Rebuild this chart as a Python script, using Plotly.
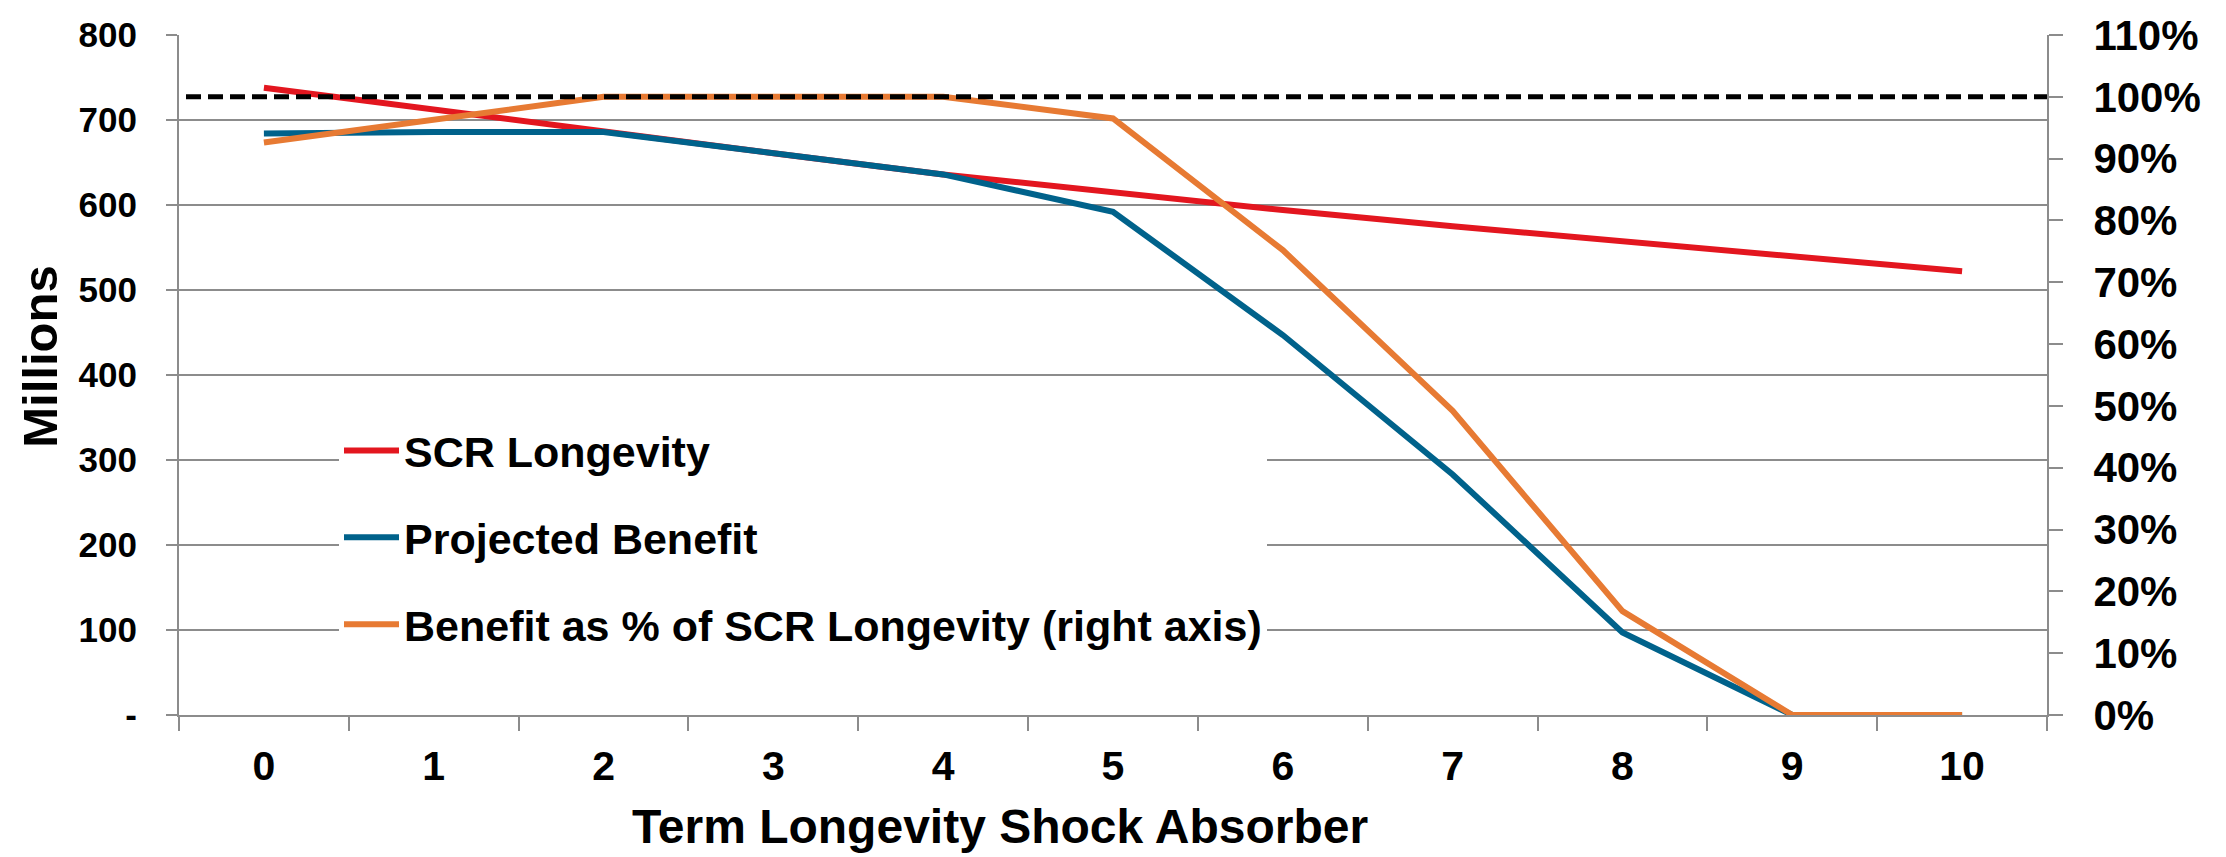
import plotly.graph_objects as go

# ---- data ----
shock_absorber = [0, 1, 2, 3, 4, 5, 6, 7, 8, 9, 10]
scr_longevity = [738, 712, 687, 661, 636, 615, 594, 575, 557, 540, 522]
projected_benefit = [684, 686, 686, 661, 636, 592, 447, 283, 97, 0, 0]
benefit_pct = [0.926, 0.964, 1.0, 1.0, 1.0, 0.965, 0.752, 0.492, 0.168, 0.0, 0.0]
target_pct = 1.0
left_tickvals = [0, 100, 200, 300, 400, 500, 600, 700, 800]
left_ticktext = ["-", "100", "200", "300", "400", "500", "600", "700", "800"]

FONT = "Liberation Sans, Arial, sans-serif"
GRID = "#8c8c8c"
RED = "#e3161f"
BLUE = "#00628b"
ORANGE = "#e77a33"

W, H = 2226, 857
L, R, T, B = 179, 179, 26, 142
pw = W - L - R
ph = H - T - B

fig = go.Figure()
fig.add_trace(go.Scatter(x=shock_absorber, y=scr_longevity, mode="lines",
                         name="SCR Longevity", legendgroup="a",
                         line=dict(color=RED, width=6)))
fig.add_trace(go.Scatter(x=shock_absorber, y=projected_benefit, mode="lines",
                         name="Projected Benefit", legendgroup="b",
                         line=dict(color=BLUE, width=6)))
fig.add_trace(go.Scatter(x=shock_absorber, y=benefit_pct, mode="lines",
                         name="Benefit as % of SCR Longevity (right axis)",
                         legendgroup="c", yaxis="y2",
                         line=dict(color=ORANGE, width=6)))

fig.add_shape(type="line", xref="paper", x0=(186 - L) / pw, x1=1,
              yref="y2", y0=target_pct, y1=target_pct,
              line=dict(color="black", width=5, dash="15px,7px"), layer="above")

fig.update_layout(
    width=W, height=H,
    margin=dict(l=L, r=R, t=T, b=B),
    paper_bgcolor="white", plot_bgcolor="white",
    font=dict(family=FONT, color="black", weight="bold"),
    showlegend=True,
    legend=dict(x=(339 - L) / pw, y=(715 - 412) / ph, xanchor="left", yanchor="top",
                bgcolor="white", borderwidth=0, traceorder="grouped",
                tracegroupgap=28, itemwidth=55,
                font=dict(size=43, family=FONT, color="black", weight="bold")),
    xaxis=dict(range=[-0.5, 10.5], tickvals=shock_absorber,
               ticktext=[str(v) for v in shock_absorber],
               ticks="outside", ticklen=14, tickcolor="white",
               tickfont=dict(size=41, family=FONT, weight="bold"),
               showgrid=False, zeroline=False,
               showline=True, linecolor=GRID, linewidth=2,
               minor=dict(tick0=-0.5, dtick=1, ticks="outside", ticklen=14,
                          tickcolor=GRID, tickwidth=2, showgrid=False)),
    yaxis=dict(range=[0, 800], tickvals=left_tickvals, ticktext=left_ticktext,
               ticks="outside", ticklen=11, tickcolor=GRID, tickwidth=2,
               tickfont=dict(size=35, family=FONT, weight="bold"),
               showgrid=True, gridcolor=GRID, gridwidth=2, zeroline=False,
               showline=True, linecolor=GRID, linewidth=2,
               ticklabelstandoff=22),
    yaxis2=dict(range=[0, 1.10], dtick=0.1, tick0=0, tickformat=".0%",
                overlaying="y", side="right", anchor="x",
                ticks="outside", ticklen=14, tickcolor=GRID, tickwidth=2,
                tickfont=dict(size=42, family=FONT, weight="bold"),
                showgrid=False, zeroline=False,
                showline=True, linecolor=GRID, linewidth=2,
                ticklabelstandoff=22),
    annotations=[
        dict(text="Term Longevity Shock Absorber", xref="paper", yref="paper",
             x=(1000 - L) / pw, y=(715 - 828) / ph, xanchor="center", yanchor="middle",
             showarrow=False, font=dict(size=48, family=FONT, weight="bold")),
        dict(text="Millions", xref="paper", yref="paper", textangle=-90,
             x=(40 - L) / pw, y=(715 - 352) / ph, xanchor="center", yanchor="middle",
             showarrow=False, font=dict(size=49, family=FONT, weight="bold")),
    ],
)

fig.write_html("out.html")
